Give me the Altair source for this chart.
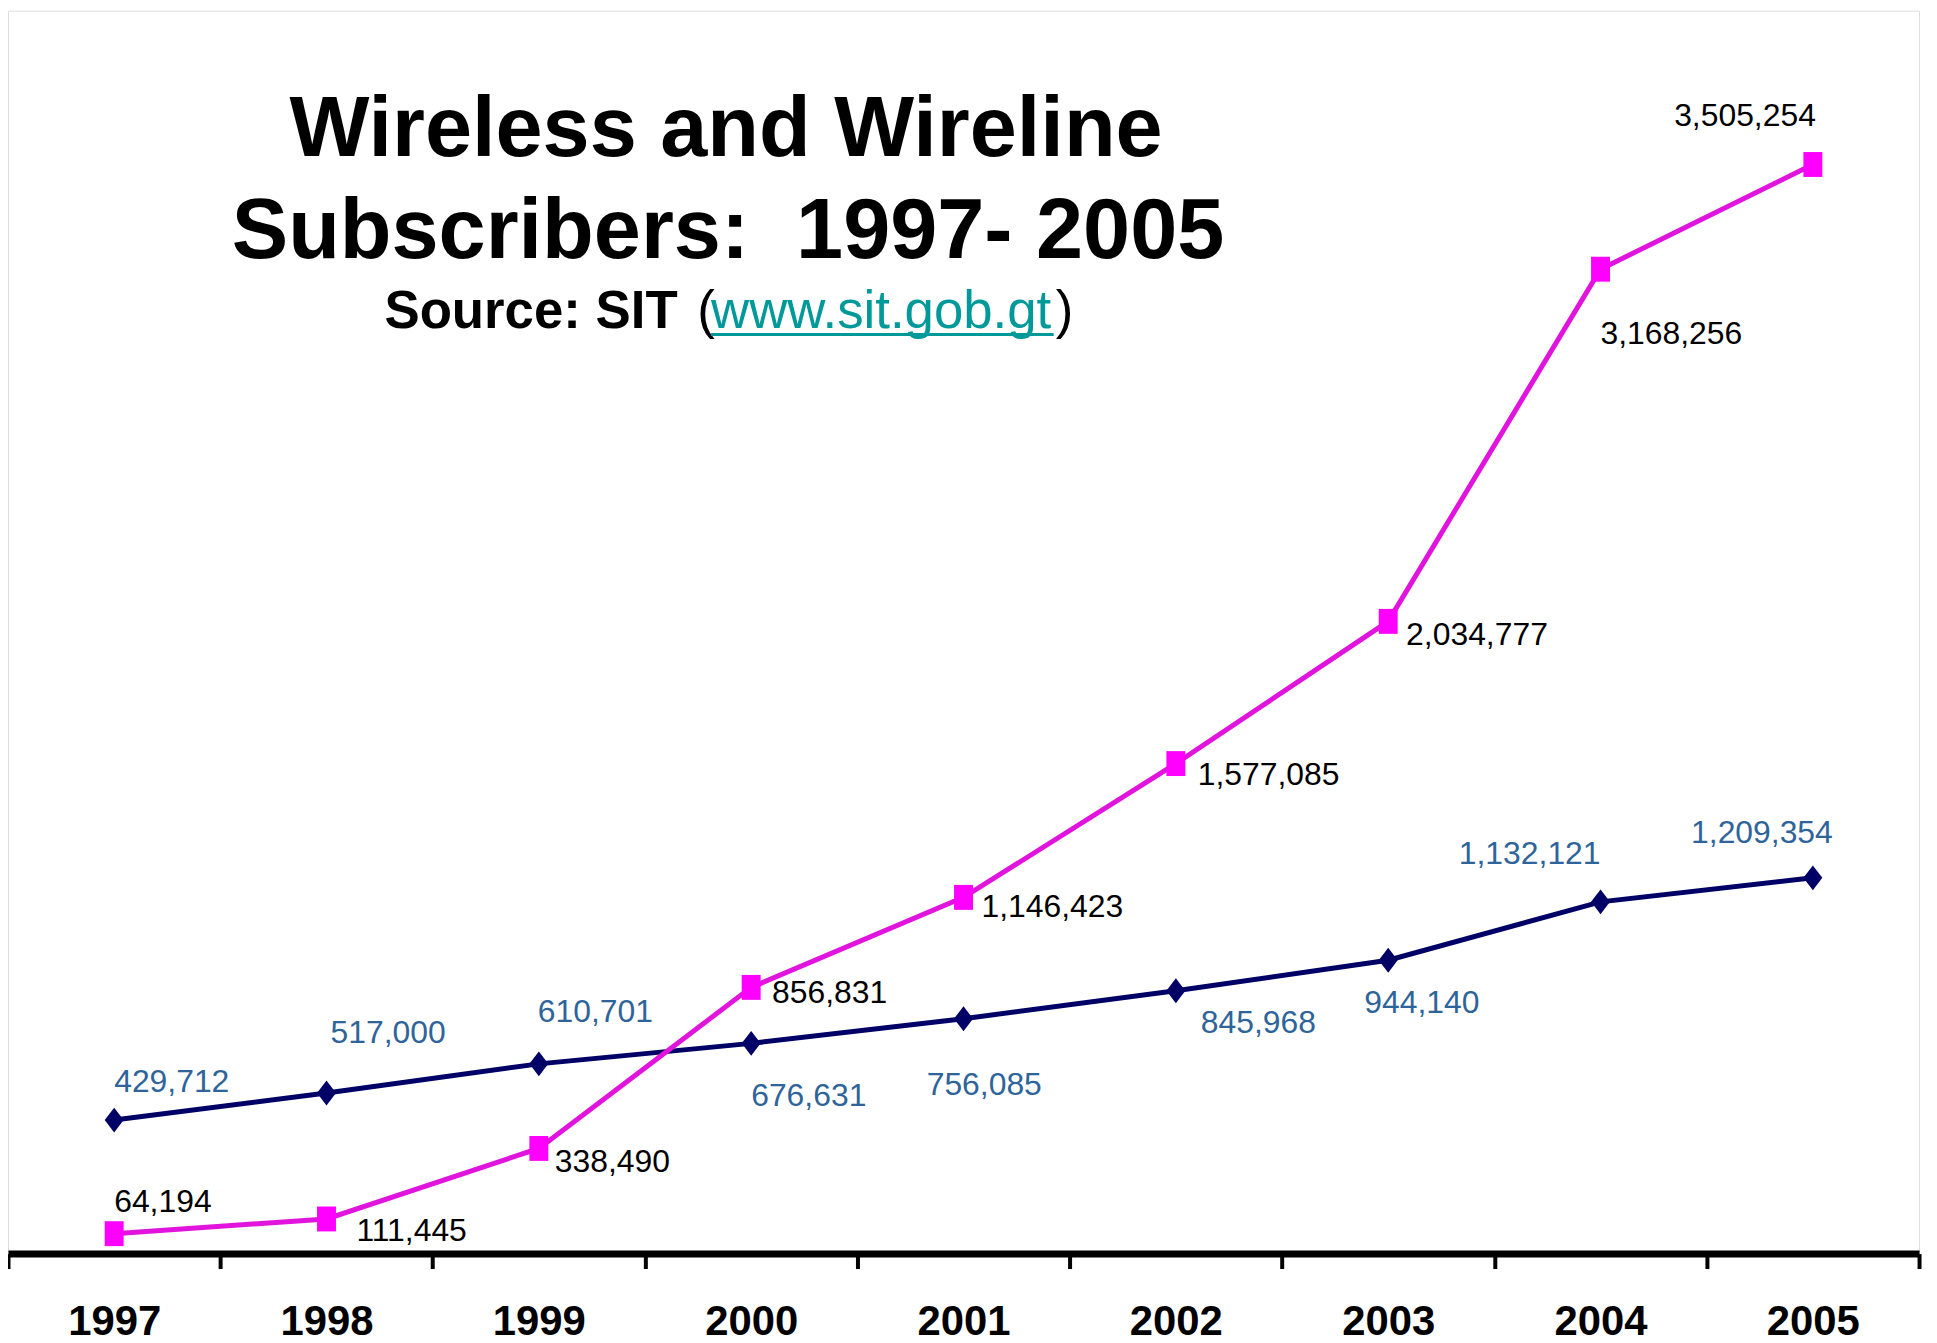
import altair as alt
import pandas as pd

# ---- data ----
years = ["1997", "1998", "1999", "2000", "2001", "2002", "2003", "2004", "2005"]
wireless = [64194, 111445, 338490, 856831, 1146423, 1577085, 2034777, 3168256, 3505254]
wireline = [429712, 517000, 610701, 676631, 756085, 845968, 944140, 1132121, 1209354]

title_line1 = "Wireless and Wireline"
title_line2 = "Subscribers:\u00a0 1997- 2005"
source_label = "Source: SIT"
source_open = "("
source_url = "www.sit.gob.gt"
source_close = ")"

# ---- label placement (pixel nudges relative to each point) ----
wireless_label_dx = [0, 30, 16, 21, 18, 22, 18, 0, 3]
wireless_label_dy = [-22, 22, 24, 16, 20, 21, 24, 75, -39]
wireless_label_align = ["left"] * 8 + ["right"]
wireline_label_dx = [0, 4, -1, 0, -37, 25, -24, 0, 20]
wireline_label_dy = [-28, -50, -42, 63, 77, 42, 53, -38, -35]
wireline_label_align = ["left"] * 7 + ["right", "right"]

PINK_LINE = "#E014DC"
PINK_MARK = "#FF00FF"
NAVY = "#000066"
BLUE_TEXT = "#2E6499"
TEAL = "#009999"
LABEL_FONT = "Liberation Sans"

df = pd.DataFrame({
    "year": years * 2,
    "value": wireless + wireline,
    "series": ["Wireless"] * len(years) + ["Wireline"] * len(years),
})
df["label"] = df["value"].map(lambda v: f"{v:,}")

W, H = 1919, 1248
x_scale = alt.Scale(type="band", domain=years, paddingInner=0, paddingOuter=0)
y_scale = alt.Scale(domain=[0, 4000000])

x_enc = alt.X(
    "year:O",
    scale=x_scale,
    title=None,
    axis=alt.Axis(
        domainColor="black", domainWidth=7,
        tickColor="black", tickWidth=4, tickSize=15, tickBand="extent",
        labelFont="Liberation Sans", labelFontWeight="bold", labelFontSize=42,
        labelColor="black", labelBaseline="alphabetic", labelPadding=66,
        labelAngle=0, labelFlush=False, labelOverlap=False, grid=False,
    ),
)
y_enc = alt.Y("value:Q", scale=y_scale, axis=None)

base = alt.Chart(df)

wireline_line = base.transform_filter(alt.datum.series == "Wireline").mark_line(
    color=NAVY, strokeWidth=5
).encode(x=x_enc, y=y_enc)
wireline_pts = base.transform_filter(alt.datum.series == "Wireline").mark_point(
    shape="M0,-1L0.76,0L0,1L-0.76,0Z", size=625, filled=True, color=NAVY, opacity=1
).encode(x=x_enc, y=y_enc)

wireless_line = base.transform_filter(alt.datum.series == "Wireless").mark_line(
    color=PINK_LINE, strokeWidth=5
).encode(x=x_enc, y=y_enc)
wireless_pts = base.transform_filter(alt.datum.series == "Wireless").mark_point(
    shape="M-0.76,-1L0.76,-1L0.76,1L-0.76,1Z", size=625, filled=True, color=PINK_MARK, opacity=1
).encode(x=x_enc, y=y_enc)

label_layers = []
for series, dxs, dys, aligns, col in [
    ("Wireless", wireless_label_dx, wireless_label_dy, wireless_label_align, "black"),
    ("Wireline", wireline_label_dx, wireline_label_dy, wireline_label_align, BLUE_TEXT),
]:
    for yr, dx, dy, al in zip(years, dxs, dys, aligns):
        label_layers.append(
            base.transform_filter(
                (alt.datum.series == series) & (alt.datum.year == yr)
            ).mark_text(
                font=LABEL_FONT, fontSize=32, color=col, align=al,
                baseline="alphabetic", dx=dx, dy=dy,
            ).encode(x=x_enc, y=y_enc, text="label:N")
        )

def text_layer(s, x, y, size, weight="bold", color="black", align="center"):
    return alt.Chart(pd.DataFrame({"t": [s]})).mark_text(
        font="Liberation Sans", fontSize=size, fontWeight=weight, color=color,
        align=align, baseline="alphabetic",
    ).encode(x=alt.value(x), y=alt.value(y), text="t:N")

titles = [
    text_layer(title_line1, 721, 146, 85),
    text_layer(title_line2, 723, 248, 85),
    text_layer(source_label, 378, 319, 53, align="left"),
    text_layer(source_open, 692, 319, 53, weight="normal", align="left"),
    text_layer(source_url, 706, 319, 53, weight="normal", color=TEAL, align="left"),
    text_layer(source_close, 1052, 319, 53, weight="normal", align="left"),
]
underline = alt.Chart(pd.DataFrame({"t": [source_url]})).mark_rule(
    color=TEAL, strokeWidth=3
).encode(x=alt.value(706), x2=alt.value(1050), y=alt.value(325))

chart = alt.layer(
    wireline_line, wireline_pts, wireless_line, wireless_pts,
    *label_layers, *titles, underline,
).properties(
    width=W, height=H,
    autosize=alt.AutoSizeParams(type="none"),
    padding={"left": 0, "top": 0, "right": 10, "bottom": 90},
).configure_view(
    stroke="#888888", strokeWidth=3
).configure(background="white")

chart.save("out.html", embed_options={"renderer": "svg", "actions": False})
